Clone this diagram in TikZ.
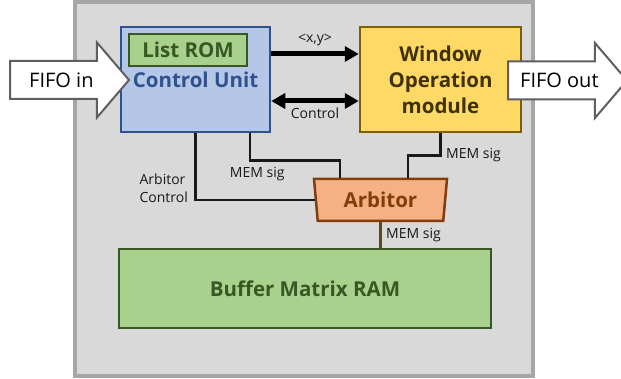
\documentclass[tikz,border=0pt]{standalone}
\usepackage{fontspec}
\setmainfont{Open Sans}
\usetikzlibrary{positioning,arrows.meta,shapes.geometric,shapes.arrows}
\definecolor{panel}{HTML}{D9D9D9}
\definecolor{panelline}{HTML}{A6A6A6}
\definecolor{ctrl}{HTML}{2F528F}
\definecolor{softctrl}{HTML}{B4C7E7}
\definecolor{mem}{HTML}{385723}
\definecolor{softmem}{HTML}{A9D18E}
\definecolor{winline}{HTML}{7F6000}
\definecolor{softwin}{HTML}{FFD966}
\definecolor{wintext}{HTML}{3F3100}
\definecolor{arb}{HTML}{843C0C}
\definecolor{softarb}{HTML}{F4B183}
\definecolor{memline}{HTML}{5E4B1C}
\definecolor{fifoline}{HTML}{5F5F5F}
\tikzset{
  board/.style  = {rectangle, draw=panelline, fill=panel, line width=4pt,
                   minimum width=458pt, minimum height=374pt},
  unit/.style   = {rectangle, line width=2.5pt, align=center, inner sep=0pt,
                   font=\fontsize{20.5}{26}\selectfont\bfseries},
  arbiter/.style = {trapezium, trapezium stretches body, shape border rotate=180,
                   trapezium angle=76.6, draw=arb, fill=softarb, text=arb,
                   line width=2.5pt, inner sep=0pt, minimum width=133pt, minimum height=42pt,
                   font=\fontsize{20.5}{26}\selectfont\bfseries},
  fifo/.style   = {single arrow, draw=fifoline, fill=white, line width=2pt,
                   single arrow head extend=18.5pt, single arrow tip angle=99,
                   text height=15pt, text depth=0pt, inner ysep=10.5pt,
                   minimum height=119pt, font=\fontsize{20}{24}\selectfont},
  bus/.style    = {line width=5pt, draw=black, -{Triangle[length=14pt,width=15pt]}},
  dbus/.style   = {bus, {Triangle[length=14pt,width=15pt]}-{Triangle[length=14pt,width=15pt]}},
  sig/.style    = {line width=2.6pt, draw=black!90},
  lbl/.style    = {font=\fontsize{14}{18}\selectfont, text=black!90},
}

\begin{document}
\begin{tikzpicture}[x=1pt,y=-1pt]
  \useasboundingbox (0,0) rectangle (621,379);
  \node[board] (board) at (304,189) {};

  \node[unit, draw=ctrl, fill=softctrl, text=ctrl, minimum width=149pt, minimum height=105pt] (cu) at (195.5,79.5) {Control Unit};
  \node[unit, draw=mem, fill=softmem, text=mem, minimum width=118pt, minimum height=32pt] (rom) at (188,50) {List ROM};
  \node[unit, draw=winline, fill=softwin, text=wintext, minimum width=161pt, minimum height=105pt] (wop) at (440.5,79.5) {Window\\Operation\\module};
  \node[arbiter] (arbit) at (380.5,200) {Arbitor};
  \node[unit, draw=mem, fill=softmem, text=mem, minimum width=372pt, minimum height=79pt] (ram) at (305,288.5) {Buffer Matrix RAM};

  \node[fifo, anchor=tail] (fin) at (9,80) {FIFO in};
  \node[fifo, anchor=tail] (fout) at (507,80.5) {FIFO out};

  \draw[bus] ([yshift=25.5pt]cu.east) -- ([yshift=25.5pt]wop.west) node[lbl,midway,above=2pt]{<x,y>};
  \draw[dbus] ([yshift=-21.5pt]cu.east) -- ([yshift=-21.5pt]wop.west) node[lbl,midway,below=1pt]{Control};

  \draw[sig] (cu.south) |- (arbit.west) node[lbl,pos=0.41,left,align=left,xshift=-3pt]{Arbitor\\Control};
  \draw[sig] ([xshift=54.5pt]cu.south) -- ++(0,27) -| ([xshift=-40.5pt]arbit.north) node[lbl,pos=0.04,below=2pt]{MEM sig};
  \draw[sig] (wop.south) -- ++(0,22) node[lbl,right=1pt]{MEM sig} -| ([xshift=27.5pt]arbit.north);
  \draw[sig, draw=memline] (arbit.south) -- (arbit.south |- ram.north) node[lbl,midway,right=1pt]{MEM sig};
\end{tikzpicture}
\end{document}
